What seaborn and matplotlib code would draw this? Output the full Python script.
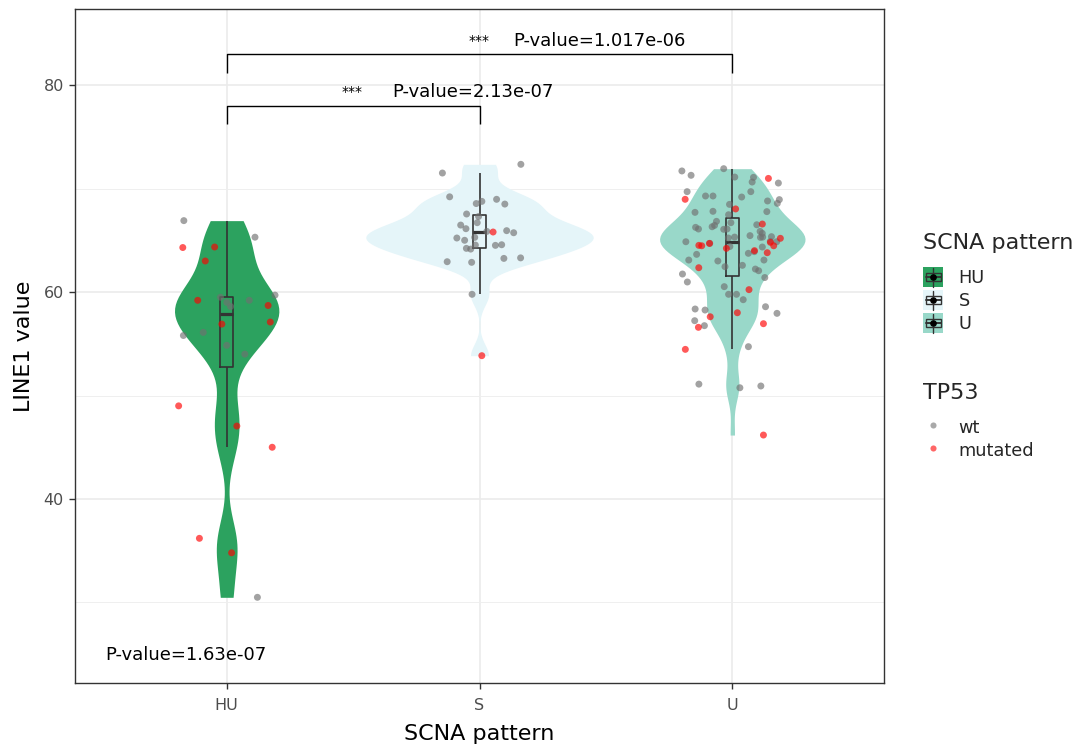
import numpy as np
import pandas as pd
import matplotlib
matplotlib.use("Agg")
import matplotlib.pyplot as plt
import seaborn as sns
from matplotlib.legend_handler import HandlerBase
from matplotlib.patches import Rectangle, Patch
from matplotlib.lines import Line2D

# ---------------- data ----------------
groups = ["HU", "S", "U"]
tp53_levels = ["wt", "mutated"]

hu_wt = [66.9, 65.3, 59.5, 59.2, 59.7, 58.6, 59.0, 55.8, 56.1, 54.85, 54.0, 30.5]
hu_mut = [64.35, 64.3, 63.0, 58.7, 59.2, 56.9, 57.1, 49.0, 47.05, 45.0, 36.2, 34.8]

s_wt = [72.34, 71.5, 68.76, 68.5, 68.96, 68.55, 69.2, 67.3, 67.54, 66.7, 66.12,
        65.73, 65.93, 66.47, 65.86, 65.22, 65.28, 65.0, 64.51, 64.22, 64.54,
        64.57, 64.15, 63.3, 62.93, 63.25, 62.87, 59.78]
s_mut = [65.8, 53.85]

u_wt = [71.92, 71.70, 71.28, 71.08, 71.11, 70.63, 70.53, 69.70, 69.70, 69.28,
        69.18, 69.28, 68.93, 68.57, 68.80, 68.47, 67.77, 67.70, 67.80, 67.47,
        66.50, 66.70, 66.25, 66.83, 66.44, 66.31, 66.09, 66.06, 66.09, 65.86,
        65.67, 65.31, 65.22, 65.28, 65.35, 65.45, 65.31, 64.86, 64.86, 64.90,
        64.70, 64.40, 64.35, 63.90, 63.64, 63.74, 63.09, 63.00, 63.09, 62.45,
        62.58, 62.22, 61.40, 62.06, 61.74, 60.52, 59.78, 60.97, 59.78, 59.26,
        58.58, 57.94, 57.23, 58.26, 54.72, 58.36, 56.75, 50.75, 51.10, 50.92]
u_mut = [70.98, 68.96, 68.03, 66.57, 65.19, 64.70, 64.51, 64.80, 64.47, 64.47,
         64.22, 64.00, 63.80, 62.35, 60.23, 56.94, 58.00, 56.59, 54.46, 57.61,
         46.18]

violin_fills = ["#2CA25F", "#E5F5F9", "#99D8C9"]
point_colors = ["#707070", "#FF0000"]

pair_tests = [("HU", "U", "1.017e-06"), ("HU", "S", "2.13e-07")]
signif_label = "***"
global_p = "1.63e-07"

# ---------------- table ----------------
rows = []
for g, wt, mut in [("HU", hu_wt, hu_mut), ("S", s_wt, s_mut), ("U", u_wt, u_mut)]:
    rows += [(g, v, "wt") for v in wt]
    rows += [(g, v, "mutated") for v in mut]
df = pd.DataFrame(rows, columns=["SCNA", "LINE1", "TP53"])

# ---------------- style ----------------
sns.set_theme(style="white")
plt.rcParams["font.family"] = ["DejaVu Sans"]

fig = plt.figure(figsize=(10.78, 7.49), dpi=100)
W, H = 1078, 749
ax = fig.add_axes([75 / W, 1 - 683 / H, (884 - 75) / W, (683 - 9) / H])


def nrd0(kde):
    x = np.asarray(kde.dataset[0])
    sd = np.std(x, ddof=1)
    q75, q25 = np.percentile(x, [75, 25])
    lo = min(sd, (q75 - q25) / 1.34)
    return 0.9 * lo * len(x) ** (-0.2) / sd


sns.violinplot(data=df, x="SCNA", y="LINE1", hue="SCNA", order=groups,
               hue_order=groups, palette=dict(zip(groups, violin_fills)),
               density_norm="area", common_norm=True, cut=0, width=0.9,
               bw_method=nrd0, inner=None, linewidth=0, saturation=1,
               dodge=False, legend=False, ax=ax, zorder=2)

sns.boxplot(data=df, x="SCNA", y="LINE1", order=groups, width=0.05,
            fill=False, color="#333333", linewidth=1.2, showcaps=False,
            showfliers=False, saturation=1,
            medianprops=dict(linewidth=2.3), ax=ax, zorder=3)

np.random.seed(7)
sns.stripplot(data=df, x="SCNA", y="LINE1", order=groups, hue="TP53",
              hue_order=tp53_levels, palette=dict(zip(tp53_levels, point_colors)),
              jitter=0.2, size=5.0, alpha=0.65, linewidth=0, dodge=False,
              legend=False, ax=ax, zorder=4)

# ---------------- axes ----------------
ax.set_xlim(-0.6, 2.6)
ax.set_ylim(22.22, 87.35)
ax.set_yticks([40, 60, 80])
ax.set_yticks([30, 50, 70], minor=True)
ax.set_axisbelow(True)
ax.grid(True, which="major", color="#EBEBEB", linewidth=1.2, zorder=0)
ax.grid(True, which="minor", axis="y", color="#EFEFEF", linewidth=0.7, zorder=0)
for sp in ax.spines.values():
    sp.set_color("#333333")
    sp.set_linewidth(1.0)
    sp.set_visible(True)
ax.tick_params(axis="both", which="major", length=4, width=1, color="#333333",
               labelcolor="#4D4D4D", labelsize=11.5, direction="out",
               bottom=True, left=True)
ax.tick_params(axis="x", which="major", pad=7)
ax.tick_params(axis="y", which="major", pad=4)
ax.tick_params(axis="y", which="minor", length=0)
ax.set_xlabel("SCNA pattern", fontsize=16, color="black", labelpad=8)
ax.set_ylabel("LINE1 value", fontsize=16, color="black", labelpad=7)

# ---------------- significance brackets ----------------
pos = {g: i for i, g in enumerate(groups)}
bracket_geom = [(83.0, 81.2, 84.25, 1.0, 1.132), (77.97, 76.2, 79.35, 0.497, 0.655)]
for (g1, g2, p), (ytop, yleg, ytxt, xstar, xtxt) in zip(pair_tests, bracket_geom):
    x1, x2 = pos[g1], pos[g2]
    ax.plot([x1, x1, x2, x2], [yleg, ytop, ytop, yleg], color="black", lw=1.0,
            solid_capstyle="butt", zorder=5)
    ax.text(xstar, ytxt, signif_label, ha="center", va="center", fontsize=10,
            color="black", zorder=5)
    ax.text(xtxt, ytxt, f"P-value={p}", ha="left", va="center", fontsize=13,
            color="black", zorder=5)

ax.text(-0.482, 24.96, f"P-value={global_p}", ha="left", va="center",
        fontsize=13, color="black")


# ---------------- legends ----------------
class BoxKey(HandlerBase):
    def create_artists(self, legend, orig_handle, xdescent, ydescent, width,
                       height, fontsize, trans):
        fc = orig_handle.get_facecolor()
        x0, y0 = -xdescent, -ydescent
        w, h = width, height
        cx, cy = x0 + w / 2, y0 + h / 2
        arts = [Rectangle((x0, y0), w, h, facecolor=fc, edgecolor="none", transform=trans),
                Rectangle((x0 + 0.14 * w, y0 + 0.3 * h), 0.72 * w, 0.4 * h,
                          facecolor="none", edgecolor="#333333", lw=1.0, transform=trans),
                Line2D([cx, cx], [y0 + 0.04 * h, y0 + 0.3 * h], color="#333333", lw=1.0, transform=trans),
                Line2D([cx, cx], [y0 + 0.7 * h, y0 + 0.96 * h], color="#333333", lw=1.0, transform=trans),
                Line2D([x0 + 0.14 * w, x0 + 0.86 * w], [cy, cy], color="#333333", lw=1.4, transform=trans),
                Line2D([cx], [cy], marker="o", markersize=3.8, color="black",
                       linestyle="none", transform=trans)]
        return arts


leg_kw = dict(loc="upper left", frameon=False, fontsize=12.8, title_fontsize=16,
              alignment="left", handlelength=1.15, handleheight=1.4,
              handletextpad=0.85, labelspacing=0.14, borderpad=0, borderaxespad=0)

box_handles = [Patch(facecolor=c) for c in violin_fills]
leg1 = fig.legend(box_handles, groups, handler_map={Patch: BoxKey()},
                  title="SCNA pattern", bbox_to_anchor=(923 / W, 1 - 233 / H),
                  **leg_kw)
leg1._legend_box.sep = 10

pt_handles = [Line2D([], [], marker="o", linestyle="none", markersize=4.4,
                     color=c, alpha=0.6, markeredgewidth=0) for c in point_colors]
leg2 = fig.legend(pt_handles, tp53_levels, title="TP53",
                  bbox_to_anchor=(923 / W, 1 - 383 / H), **leg_kw)
leg2._legend_box.sep = 10

fig.savefig("out.png", dpi=100)
